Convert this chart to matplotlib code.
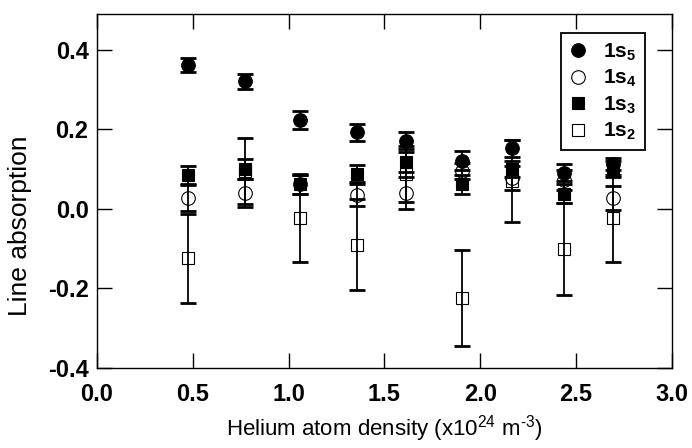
import matplotlib
matplotlib.use('Agg')
import matplotlib.pyplot as plt

plt.rcParams.update({
    'font.family': ['Liberation Sans', 'DejaVu Sans'],
    'mathtext.fontset': 'custom',
    'mathtext.rm': 'Liberation Sans',
    'mathtext.bf': 'Liberation Sans:bold',
    'mathtext.it': 'Liberation Sans:italic',
    'axes.unicode_minus': False,
    'axes.linewidth': 1.0,
})

# helium density (x10^24 m^-3)
density = [0.475, 0.772, 1.059, 1.356, 1.612, 1.904, 2.165, 2.436, 2.692]

abs_1s5 = [0.362, 0.320, 0.223, 0.192, 0.171, 0.121, 0.152, 0.091, 0.113]
err_1s5 = [0.018, 0.019, 0.022, 0.022, 0.022, 0.024, 0.022, 0.022, 0.015]

abs_1s4 = [0.027, 0.040, 0.062, 0.034, 0.040, 0.095, 0.078, 0.072, 0.027]
err_1s4 = [0.032, 0.035, 0.025, 0.027, 0.040, 0.020, 0.030, 0.025, 0.030]

abs_1s3 = [0.085, 0.100, 0.061, 0.088, 0.117, 0.061, 0.101, 0.038, 0.100]
err_1s3 = [0.022, 0.026, 0.024, 0.022, 0.025, 0.023, 0.020, 0.023, 0.020]

abs_1s2 = [-0.125, 0.095, -0.024, -0.090, 0.088, -0.225, 0.069, -0.101, -0.024]
err_1s2 = [0.111, 0.083, 0.110, 0.115, 0.070, 0.120, 0.103, 0.115, 0.110]

series = [
    (r'$\mathbf{1s_5}$', abs_1s5, err_1s5, 'o', 'black'),
    (r'$\mathbf{1s_4}$', abs_1s4, err_1s4, 'o', 'none'),
    (r'$\mathbf{1s_3}$', abs_1s3, err_1s3, 's', 'black'),
    (r'$\mathbf{1s_2}$', abs_1s2, err_1s2, 's', 'none'),
]

fig = plt.figure(figsize=(6.92, 4.48), dpi=100)
ax = fig.add_axes([0.140, 0.179, 0.831, 0.790])

handles = []
for label, y, yerr, mk, fc in reversed(series):
    ax.errorbar(density, y, yerr=yerr, fmt='none', ecolor='black',
                elinewidth=1.3, capsize=5.8, capthick=2.0)
for label, y, yerr, mk, fc in reversed(series):
    ms = 9.8 if mk == 'o' else 8.8
    h, = ax.plot(density, y, linestyle='none', marker=mk, markersize=ms,
                 markerfacecolor=fc, markeredgecolor='black',
                 markeredgewidth=0.8, label=label)
    handles.append(h)
handles = handles[::-1]

ax.set_xlim(0.0, 3.0)
ax.set_ylim(-0.4, 0.49)
ax.set_xticks([0.0, 0.5, 1.0, 1.5, 2.0, 2.5, 3.0])
ax.set_yticks([-0.4, -0.2, 0.0, 0.2, 0.4])
ax.tick_params(direction='in', length=11, width=1.0, top=True, right=True,
               labelsize=17)
ax.tick_params(axis='x', pad=11)
ax.tick_params(axis='y', pad=6)
for lab in ax.get_xticklabels() + ax.get_yticklabels():
    lab.set_fontweight('bold')

ax.set_xlabel(r'Helium atom density (x10$^{24}$ m$^{\text{-}3}$)', fontsize=16, labelpad=5)
ax.set_ylabel('Line absorption', fontsize=19)
ax.yaxis.set_label_coords(-0.112, 0.40)

leg = ax.legend(handles=handles, loc='upper right', bbox_to_anchor=(0.953, 0.946),
                fontsize=15, frameon=True, fancybox=False, framealpha=1,
                edgecolor='black', handlelength=0.8, handletextpad=0.8,
                labelspacing=0.25, borderpad=0.4, borderaxespad=0)
leg.get_frame().set_linewidth(1.3)

fig.savefig('out.png', dpi=100)
